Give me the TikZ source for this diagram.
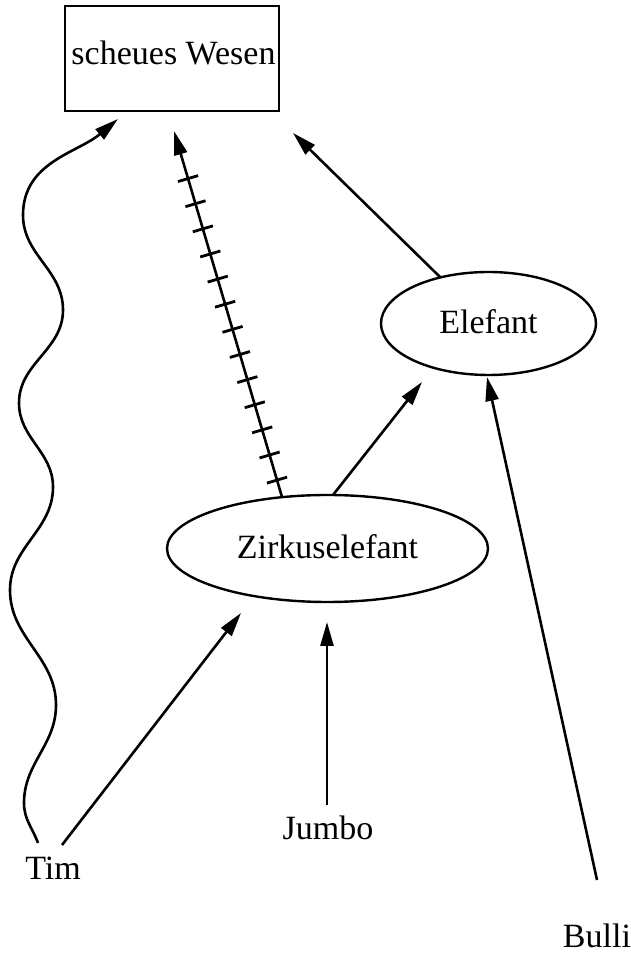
\documentclass[tikz,border=0pt]{standalone}
\usepackage{fontspec}
\setmainfont{Liberation Serif}
\usetikzlibrary{arrows.meta,decorations.markings,shapes.geometric}
\begin{document}
\begin{tikzpicture}[x=1pt,y=1pt,
  every node/.style={font=\fontsize{34}{41}\selectfont},
  boxnode/.style={draw,line width=2.8pt,minimum width=214pt,minimum height=105pt,inner sep=0pt},
  ell/.style={draw,ellipse,line width=2.4pt,inner sep=0pt,text depth=3pt},
  lbl/.style={inner sep=0pt,anchor=base},
  arr/.style={line width=2.6pt,-{Triangle[length=24pt,width=13pt]}},
  hatch/.style={postaction={decorate},decoration={markings,
    mark=between positions 17.6pt and 335pt step 26.2pt with {\draw[arrows=-,line width=2.8pt] (0pt,-10.5pt) -- (0pt,10.5pt);}}}
]
\useasboundingbox (0,0) rectangle (631,954);
% nodes
\node[boxnode] (sw) at (172,895.5) {};
\node[lbl] (swt) at (173.5,889) {scheues Wesen};
\node[ell,minimum width=215pt,minimum height=103pt] (ele) at (488.5,630.5) {Elefant};
\node[ell,minimum width=321pt,minimum height=107pt] (zirk) at (327.5,405.5) {Zirkuselefant};
\node[lbl] (tim) at (53,74) {Tim};
\node[lbl] (jumbo) at (328,114) {Jumbo};
\node[lbl] (bulli) at (597,6) {Bulli};
% connectors
\draw[arr] ([shift={(-48.5,46.5)}]ele.center) -- ([shift={(121,-74.5)}]sw.center);
\draw[arr] ([shift={(5.5,53.5)}]zirk.center) -- ([shift={(-66.5,-58.5)}]ele.center);
\draw[arr,hatch] ([shift={(-45.5,51.5)}]zirk.center) -- ([shift={(2,-72.5)}]sw.center);
\draw[arr] ([shift={(9,35)}]tim.base) -- ([shift={(-86.5,-64.5)}]zirk.center);
\draw[arr] ([shift={(-1,35)}]jumbo.base) -- ([shift={(-0.5,-73.5)}]zirk.center);
\draw[arr] ([shift={(0,68)}]bulli.base) -- ([shift={(-1.5,-53.5)}]ele.center);
\draw[arr] ([shift={(-15,37)}]tim.base) to[out=110,in=-90] (24,151)
  to[out=90,in=-90] (56,249) to[out=90,in=-90] (10,364)
  to[out=90,in=-90] (53,467) to[out=90,in=-90] (19,551)
  to[out=90,in=-90] (63,644) to[out=90,in=-90] (23,739)
  to[out=90,in=220] ([shift={(-54,-60.5)}]sw.center);
\end{tikzpicture}
\end{document}
